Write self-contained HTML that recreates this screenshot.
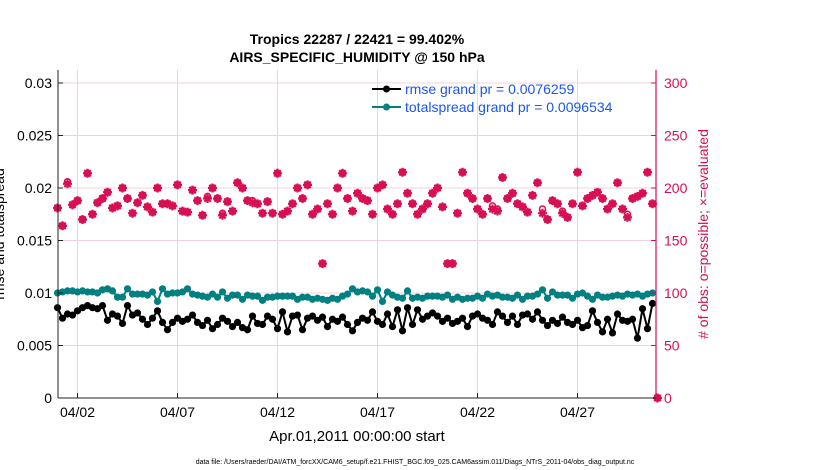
<!DOCTYPE html>
<html><head><meta charset="utf-8"><style>
body{margin:0;background:#fff;}
svg{display:block;font-family:"Liberation Sans",sans-serif;}
</style></head><body>
<svg id="chart" width="830" height="470" viewBox="0 0 830 470">
<rect x="0" y="0" width="830" height="470" fill="#fff"/>
<g id="grid"></g>
<g id="series"></g>
<g id="axes"></g>
<text x="357" y="44" text-anchor="middle" font-size="14" font-weight="bold">Tropics 22287 / 22421 = 99.402%</text>
<text x="357" y="62" text-anchor="middle" font-size="14" font-weight="bold">AIRS_SPECIFIC_HUMIDITY @ 150 hPa</text>
<text x="357" y="441" text-anchor="middle" font-size="15">Apr.01,2011 00:00:00 start</text>
<text transform="translate(4,234) rotate(-90)" text-anchor="middle" font-size="14">rmse and totalspread</text>
<text transform="translate(708,234) rotate(-90)" text-anchor="middle" font-size="14" fill="#d80f55"># of obs: o=possible; ×=evaluated</text>
<text x="415" y="464" text-anchor="middle" font-size="7">data file: /Users/raeder/DAI/ATM_forcXX/CAM6_setup/f.e21.FHIST_BGC.f09_025.CAM6assim.011/Diags_NTrS_2011-04/obs_diag_output.nc</text>
<g>
<g>
<line x1="372" y1="89" x2="401" y2="89" stroke="#000" stroke-width="2"/>
<circle cx="386.5" cy="89" r="3.5" fill="#000"/>
<text x="405" y="94" font-size="14" fill="#1a56f0">rmse grand pr = 0.0076259</text>
</g>
<g>
<line x1="372" y1="107" x2="401" y2="107" stroke="#008080" stroke-width="2"/>
<circle cx="386.5" cy="107" r="3.5" fill="#008080"/>
<text x="405" y="112" font-size="14" fill="#1a56f0">totalspread grand pr = 0.0096534</text>
</g>
</g>
</svg>
<script>
const tickDays = [1,6,11,16,21,26];
const tickLabels = ["04/02","04/07","04/12","04/17","04/22","04/27"];
const leftTicks = [0,0.005,0.01,0.015,0.02,0.025,0.03];
const leftTickLabels = ["0","0.005","0.01","0.015","0.02","0.025","0.03"];
const rightTicks = [0,50,100,150,200,250,300];
const rmse = [0.0086,0.0076,0.0080,0.0079,0.0083,0.0086,0.0088,0.0086,0.0085,0.0088,0.0074,0.0080,0.0078,0.0071,0.0088,0.0079,0.0081,0.0075,0.0070,0.0076,0.0083,0.0072,0.0065,0.0072,0.0076,0.0073,0.0075,0.0079,0.0072,0.0069,
0.0074,0.0066,0.0070,0.0076,0.0073,0.0068,0.0072,0.0067,0.0065,0.0078,0.0071,0.0070,0.0078,0.0075,0.0066,0.0082,0.0063,0.0078,0.0079,0.0065,0.0076,0.0078,0.0074,0.0077,0.0068,0.0075,0.0073,0.0077,0.0070,0.0064,
0.0072,0.0076,0.0074,0.0082,0.0073,0.0070,0.0080,0.0068,0.0084,0.0064,0.0086,0.0070,0.0084,0.0075,0.0078,0.0081,0.0078,0.0073,0.0076,0.0071,0.0073,0.0076,0.0068,0.0078,0.0080,0.0076,0.0074,0.0070,0.0082,0.0078,
0.0072,0.0078,0.0070,0.0079,0.0080,0.0075,0.0082,0.0074,0.0069,0.0074,0.0071,0.0077,0.0072,0.0070,0.0074,0.0067,0.0069,0.0083,0.0072,0.0063,0.0075,0.0062,0.0080,0.0074,0.0073,0.0075,0.0057,0.0085,0.0066,0.0090];
const spread = [0.0100,0.0101,0.0102,0.0102,0.0101,0.0102,0.0101,0.0101,0.0100,0.0103,0.0104,0.0102,0.0096,0.0096,0.0104,0.0099,0.0099,0.0099,0.0098,0.0101,0.0092,0.0104,0.0099,0.0100,0.0100,0.0101,0.0104,0.0099,0.0098,0.0097,
0.0096,0.0099,0.0096,0.0101,0.0095,0.0098,0.0098,0.0094,0.0098,0.0097,0.0097,0.0093,0.0096,0.0096,0.0097,0.0097,0.0097,0.0097,0.0094,0.0096,0.0096,0.0094,0.0095,0.0094,0.0093,0.0095,0.0094,0.0097,0.0099,0.0104,
0.0101,0.0102,0.0101,0.0097,0.0103,0.0092,0.0101,0.0098,0.0096,0.0095,0.0102,0.0095,0.0096,0.0095,0.0097,0.0097,0.0097,0.0096,0.0098,0.0094,0.0096,0.0094,0.0095,0.0095,0.0097,0.0095,0.0099,0.0097,0.0098,0.0096,
0.0096,0.0095,0.0098,0.0094,0.0097,0.0097,0.0099,0.0103,0.0095,0.0101,0.0098,0.0098,0.0098,0.0095,0.0099,0.0100,0.0097,0.0094,0.0098,0.0096,0.0096,0.0097,0.0098,0.0097,0.0099,0.0098,0.0099,0.0097,0.0099,0.0100];
const obsPossible = [181,164,206,184,188,170,214,175,186,190,196,181,183,200,190,176,186,193,182,177,200,185,185,183,203,178,177,198,188,174,
192,200,190,176,187,178,205,200,188,188,185,176,187,176,214,175,178,185,200,190,203,175,180,128,185,175,200,214,190,178,
195,190,188,175,200,203,180,175,185,215,195,185,175,180,185,195,200,182,128,128,176,215,195,190,180,175,190,183,180,210,
190,195,185,182,177,193,205,180,170,188,185,178,172,185,215,183,190,193,196,190,180,185,205,180,175,190,192,195,215,185,0];
const obsUsed = [181,164,204,184,188,170,214,175,186,190,196,181,183,200,190,176,186,193,182,177,200,185,185,183,203,178,177,198,188,174,
190,200,190,174,187,178,205,200,188,186,185,176,187,176,214,175,178,185,200,190,203,175,180,128,185,175,200,214,190,178,
195,190,188,175,200,203,180,175,185,215,195,185,175,180,185,195,200,182,128,128,176,215,195,190,180,175,190,180,178,210,
190,195,185,182,177,193,205,176,170,188,185,176,172,185,215,183,190,193,196,190,180,185,205,180,172,190,192,195,215,185,0];

const NS="http://www.w3.org/2000/svg";
const X0=57.5, PXD=20, LEFT=58, RIGHT=656, TOP=70, BOT=398;
function xs(d){return X0+PXD*d;}
function yl(v){return BOT-v*10500;}
function yr(n){return BOT-n*1.05;}
function mk(tag,attrs,parent){const e=document.createElementNS(NS,tag);for(const k in attrs)e.setAttribute(k,attrs[k]);parent.appendChild(e);return e;}
const grid=document.getElementById('grid'), axes=document.getElementById('axes'), ser=document.getElementById('series');

leftTicks.forEach((t,i)=>{
  const g=mk('line',{x1:LEFT,x2:RIGHT,y1:yl(t),y2:yl(t),stroke:'#f4d0df','stroke-width':1},grid);
  
  
  mk('line',{x1:LEFT,x2:LEFT+5,y1:yl(t),y2:yl(t),stroke:'#222'},axes);
  const tx=mk('text',{x:LEFT-6,y:yl(t)+5,'text-anchor':'end','font-size':14},axes);
  tx.textContent=leftTickLabels[i];
  
  
});
rightTicks.forEach(t=>{
  mk('line',{x1:RIGHT-5,x2:RIGHT,y1:yr(t),y2:yr(t),stroke:'#d80f55'},axes);
  const tx=mk('text',{x:RIGHT+8,y:yr(t)+5,'font-size':14,fill:'#d80f55'},axes);
  tx.textContent=String(t);
  
  
});
tickDays.forEach((d,i)=>{
  const g=mk('line',{x1:xs(d),x2:xs(d),y1:TOP,y2:BOT,stroke:'#dcdcdc'},grid);
  
  
  mk('line',{x1:xs(d),x2:xs(d),y1:BOT,y2:BOT-5,stroke:'#222'},axes);
  const tx=mk('text',{x:xs(d),y:BOT+19,'text-anchor':'middle','font-size':14},axes);
  tx.textContent=tickLabels[i];
  
  
});
const la=mk('line',{x1:LEFT,x2:LEFT,y1:TOP,y2:BOT,stroke:'#222','stroke-width':1},axes);


const ba=mk('line',{x1:LEFT,x2:RIGHT,y1:BOT,y2:BOT,stroke:'#222','stroke-width':1},axes);


const ra=mk('line',{x1:RIGHT,x2:RIGHT,y1:TOP,y2:BOT,stroke:'#d80f55','stroke-width':1.2},axes);



obsPossible.forEach((n,i)=>{
  const c=mk('circle',{cx:xs(i*0.25),cy:yr(n),r:3,fill:'none',stroke:'#d80f55','stroke-width':1.5},ser);
  
  
});
obsUsed.forEach((n,i)=>{
  const x=xs(i*0.25), y=yr(n);
  const g=mk('g',{},ser);
  
  
  mk('path',{d:`M${x-4.5},${y}H${x+4.5}M${x},${y-4.5}V${y+4.5}M${x-3.2},${y-3.2}L${x+3.2},${y+3.2}M${x-3.2},${y+3.2}L${x+3.2},${y-3.2}`,stroke:'#d80f55','stroke-width':2.2},g);
  mk('circle',{cx:x,cy:y,r:2.5,fill:'#d80f55'},g);
});
function drawLine(arr,color,name){
  const pts=arr.map((v,i)=>xs(i*0.25)+','+yl(v)).join(' ');
  const pl=mk('polyline',{points:pts,fill:'none',stroke:color,'stroke-width':2},ser);
  
  
  arr.forEach((v,i)=>{
    const c=mk('circle',{cx:xs(i*0.25),cy:yl(v),r:3.6,fill:color},ser);
    
    
  });
}
drawLine(spread,'#008080','totalspread');
drawLine(rmse,'#000','rmse');
</script>
</body></html>
